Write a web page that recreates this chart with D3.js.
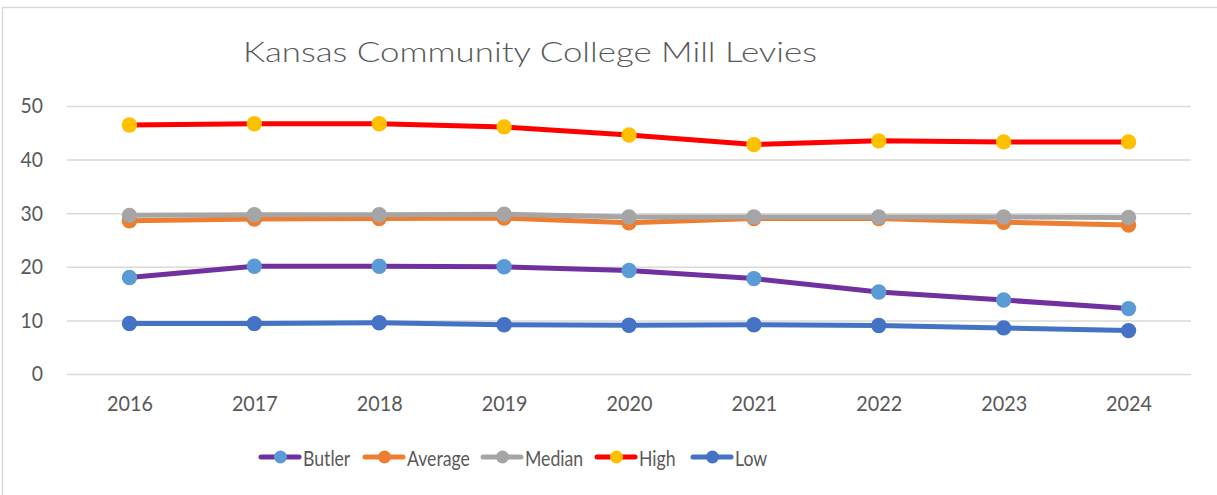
<!DOCTYPE html>
<html><head><meta charset="utf-8">
<script src="https://cdn.jsdelivr.net/npm/d3@7"></script>
<style>html,body{margin:0;padding:0;background:#fff;}svg{display:block;}</style>
</head><body><svg id="c" width="1217" height="495"></svg>
<script>
const years = ["2016","2017","2018","2019","2020","2021","2022","2023","2024"];
const butler  = [18.0, 20.1, 20.1, 20.0, 19.3, 17.8, 15.3, 13.8, 12.2];
const average = [28.6, 28.9, 29.0, 29.1, 28.2, 29.0, 29.0, 28.3, 27.8];
const median  = [29.6, 29.7, 29.7, 29.8, 29.3, 29.3, 29.3, 29.3, 29.2];
const high    = [46.45, 46.7, 46.7, 46.1, 44.6, 42.8, 43.5, 43.3, 43.3];
const low     = [9.43, 9.4, 9.55, 9.2, 9.1, 9.2, 9.05, 8.6, 8.1];
const yTicks = [0, 10, 20, 30, 40, 50];
const seriesNames = ["Butler","Average","Median","High","Low"];

const series = [
  {name:"Butler", values:butler, line:"#7030A0", marker:"#5B9BD5"},
  {name:"Average", values:average, line:"#ED7D31", marker:"#ED7D31"},
  {name:"Median", values:median, line:"#A5A5A5", marker:"#A5A5A5"},
  {name:"High", values:high, line:"#FF0000", marker:"#FFC000"},
  {name:"Low", values:low, line:"#4472C4", marker:"#4472C4"}
];

const font = "Lato, 'Open Sans', sans-serif";
const svg = d3.select("#c");
svg.append("rect").attr("x",2.5).attr("y",7.5).attr("width",1230).attr("height",500)
  .attr("fill","#fff").attr("stroke","#D9D9D9").attr("stroke-width",1.5);

function squeeze(sel, f){
  sel.each(function(){
    const w = this.getComputedTextLength();
    d3.select(this).attr("textLength", w*f).attr("lengthAdjust","spacingAndGlyphs");
  });
}

const pLeft = 67, pRight = 1191, pTop = 106, pBottom = 374;
const x = d3.scalePoint().domain(years).range([pLeft, pRight]).padding(0.5);
const y = d3.scaleLinear().domain([0, 50]).range([pBottom, pTop]);

// title
svg.append("text").attr("x",243).attr("y",62)
  .attr("font-family",font).attr("font-size",26.5).attr("font-weight",300).attr("fill","#595959")
  .attr("textLength",574).attr("lengthAdjust","spacingAndGlyphs")
  .text("Kansas Community College Mill Levies");

// gridlines + y axis
const yAxis = d3.axisLeft(y).tickValues(yTicks).tickSize(-(pRight-pLeft)).tickPadding(24);
const gy = svg.append("g").attr("transform",`translate(${pLeft},0)`).call(yAxis);
gy.select(".domain").remove();
gy.selectAll(".tick line").attr("stroke","#D9D9D9").attr("stroke-width",1.5);
gy.selectAll(".tick text").attr("font-family",font).attr("font-size",21.5).attr("fill","#595959");
squeeze(gy.selectAll(".tick text"), 0.9);

const xAxis = d3.axisBottom(x).tickSize(0).tickPadding(22);
const gx = svg.append("g").attr("transform",`translate(0,${pBottom})`).call(xAxis);
gx.select(".domain").remove();
gx.selectAll(".tick text").attr("font-family",font).attr("font-size",21.5).attr("fill","#595959");
squeeze(gx.selectAll(".tick text"), 0.92);

const line = d3.line().x((d,i)=>x(years[i])).y(d=>y(d));
series.forEach(s=>{
  const g = svg.append("g");
  g.append("path").datum(s.values).attr("d",line).attr("fill","none")
    .attr("stroke",s.line).attr("stroke-width",5).attr("stroke-linejoin","round").attr("stroke-linecap","round");
  g.selectAll("circle").data(s.values).join("circle")
    .attr("cx",(d,i)=>x(years[i])).attr("cy",d=>y(d)).attr("r",7.7).attr("fill",s.marker);
});

// legend
const legX = [260, 364, 482, 596, 692];
const ly = 457;
series.forEach((s,i)=>{
  const g = svg.append("g").attr("transform",`translate(${legX[i]},${ly})`);
  g.append("line").attr("x1",1).attr("x2",39).attr("y1",0).attr("y2",0)
    .attr("stroke",s.line).attr("stroke-width",5).attr("stroke-linecap","round");
  g.append("circle").attr("cx",20.5).attr("cy",0).attr("r",6.5).attr("fill",s.marker);
  const t = g.append("text").attr("x",43).attr("y",9)
    .attr("font-family",font).attr("font-size",21).attr("fill","#595959").text(seriesNames[i]);
  squeeze(t, 0.84);
});
</script></body></html>
